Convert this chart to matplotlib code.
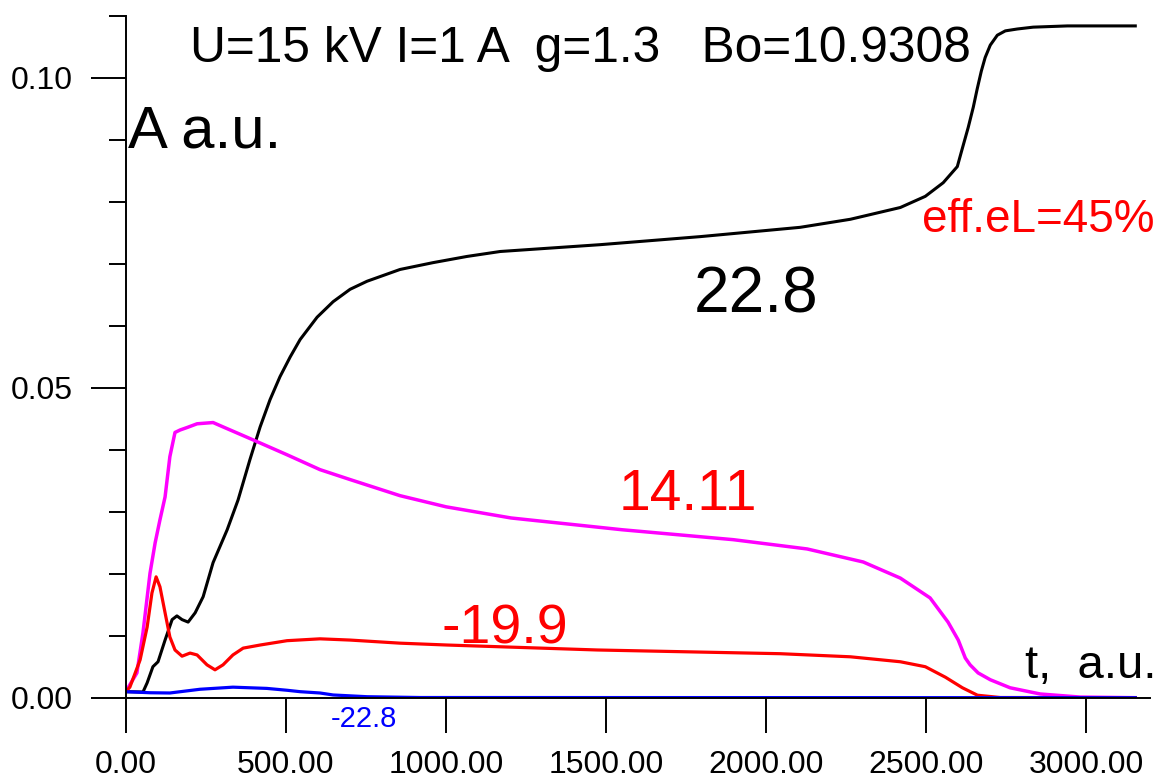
import matplotlib
matplotlib.use("Agg")
import matplotlib.pyplot as plt
from matplotlib.ticker import FixedLocator, FuncFormatter

plt.rcParams['font.family'] = ['Liberation Sans', 'DejaVu Sans']

# time axis samples and amplitudes for the four components
t_black = [0, 54, 67, 85, 101, 123, 145, 160, 176, 195, 217, 242, 273, 317, 351,
           388, 420, 451, 482, 514, 545, 598, 648, 701, 754, 857, 960, 1066,
           1170, 1482, 1795, 2107, 2264, 2420, 2498, 2554, 2598, 2613, 2632,
           2648, 2660, 2673, 2685, 2701, 2723, 2748, 2785, 2835, 2942, 3154]
a_black = [0.00097, 0.00092, 0.0024, 0.0050, 0.0058, 0.0093, 0.0126, 0.0132,
           0.0126, 0.0122, 0.0137, 0.0163, 0.0218, 0.0271, 0.0319, 0.0384,
           0.0437, 0.0481, 0.0518, 0.0550, 0.0578, 0.0614, 0.0639, 0.0659,
           0.0672, 0.0691, 0.0702, 0.0712, 0.0720, 0.0731, 0.0744, 0.0759,
           0.0772, 0.0791, 0.0809, 0.0831, 0.0857, 0.0885, 0.0920, 0.0953,
           0.0982, 0.1011, 0.1033, 0.1053, 0.1069, 0.1076, 0.1079, 0.1082,
           0.1084, 0.1084]

t_magenta = [0, 35, 54, 76, 92, 107, 123, 138, 154, 170, 192, 223, 273, 304, 398,
             504, 607, 701, 857, 1001, 1204, 1551, 1898, 2129, 2304, 2420, 2513,
             2569, 2601, 2623, 2638, 2663, 2701, 2763, 2857, 2982, 3154]
a_magenta = [0.00097, 0.0040, 0.0105, 0.0201, 0.0250, 0.0287, 0.0324, 0.0389,
             0.0428, 0.0432, 0.0436, 0.0442, 0.0444, 0.0437, 0.0416, 0.0392,
             0.0368, 0.0352, 0.0326, 0.0308, 0.0290, 0.0271, 0.0255, 0.0240,
             0.0219, 0.0193, 0.0161, 0.0122, 0.0093, 0.0064, 0.0053, 0.0040,
             0.0029, 0.0016, 0.0006, 0.0001, 0.0]

t_red = [0, 13, 45, 67, 82, 95, 107, 123, 138, 154, 176, 201, 223, 254, 279, 304,
         335, 367, 420, 504, 607, 701, 857, 1004, 1473, 2045, 2264, 2420, 2498,
         2561, 2614, 2661, 2732, 3154]
a_red = [0.00097, 0.0017, 0.0061, 0.0114, 0.0169, 0.0195, 0.0179, 0.0137, 0.0098,
         0.0077, 0.0067, 0.0072, 0.0069, 0.0053, 0.0045, 0.0053, 0.0069, 0.0080,
         0.0085, 0.0092, 0.0095, 0.0093, 0.0088, 0.0085, 0.0077, 0.0071, 0.0066,
         0.0058, 0.0050, 0.0033, 0.0016, 0.0004, 0.00003, 0.0]

t_blue = [0, 76, 138, 232, 335, 441, 504, 545, 607, 648, 754, 920, 3154]
a_blue = [0.00097, 0.0008, 0.00076, 0.00136, 0.0017, 0.0015, 0.0012, 0.00097,
          0.00076, 0.00044, 0.00016, 0.00003, 0.0]

x_major = [0, 500, 1000, 1500, 2000, 2500, 3000]
y_major = [0.0, 0.05, 0.10]
y_minor = [0.01, 0.02, 0.03, 0.04, 0.06, 0.07, 0.08, 0.09, 0.11]

W, H = 1162, 782
fig = plt.figure(figsize=(W / 100, H / 100), dpi=100)
ax = fig.add_axes([125.7 / W, 1 - 697.7 / H, (1150 - 125.7) / W, (697.7 - 16) / H])

ax.plot(t_black, a_black, color='black', lw=2.2, solid_joinstyle='round')
ax.plot(t_magenta, a_magenta, color='#ff00ff', lw=2.5, solid_joinstyle='round')
ax.plot(t_red, a_red, color='#ff0000', lw=2.3, solid_joinstyle='round')
ax.plot(t_blue, a_blue, color='#0000ff', lw=2.3, solid_joinstyle='round')

ax.set_xlim(0, 3200)
ax.set_ylim(0, 0.11)
for side in ('top', 'right'):
    ax.spines[side].set_visible(False)
for side in ('left', 'bottom'):
    ax.spines[side].set_linewidth(1.4)

ax.xaxis.set_major_locator(FixedLocator(x_major))
ax.xaxis.set_major_formatter(FuncFormatter(lambda v, p: f"{v:.2f}"))
ax.yaxis.set_major_locator(FixedLocator(y_major))
ax.yaxis.set_minor_locator(FixedLocator(y_minor))
ax.yaxis.set_major_formatter(FuncFormatter(lambda v, p: f"{v:.2f}"))

ax.tick_params(axis='both', which='major', direction='out', length=25,
               width=1.4, labelsize=23, pad=13)
ax.tick_params(axis='y', which='minor', direction='out', length=12.5, width=1.4)
ax.tick_params(axis='x', which='major', pad=13)


def put(px, py, s, size, color='black'):
    # text placed by left edge / baseline in figure pixels
    fig.text(px / W, 1 - py / H, s, fontsize=size, color=color,
             ha='left', va='baseline')


put(190, 62, "U=15 kV I=1 A  g=1.3   Bo=10.9308", 35.7)
put(128, 148, "A a.u.", 43)
put(694, 313, "22.8", 46)
put(619, 510, "14.11", 41, '#ff0000')
put(441, 643, "-19.9", 40, '#ff0000')
put(922, 232, "eff.eL=45%", 33, '#ff0000')
put(1025, 678, "t,  a.u.", 34)
put(331, 727, "-22.8", 21, '#0000ff')

fig.savefig("out.png", dpi=100)
